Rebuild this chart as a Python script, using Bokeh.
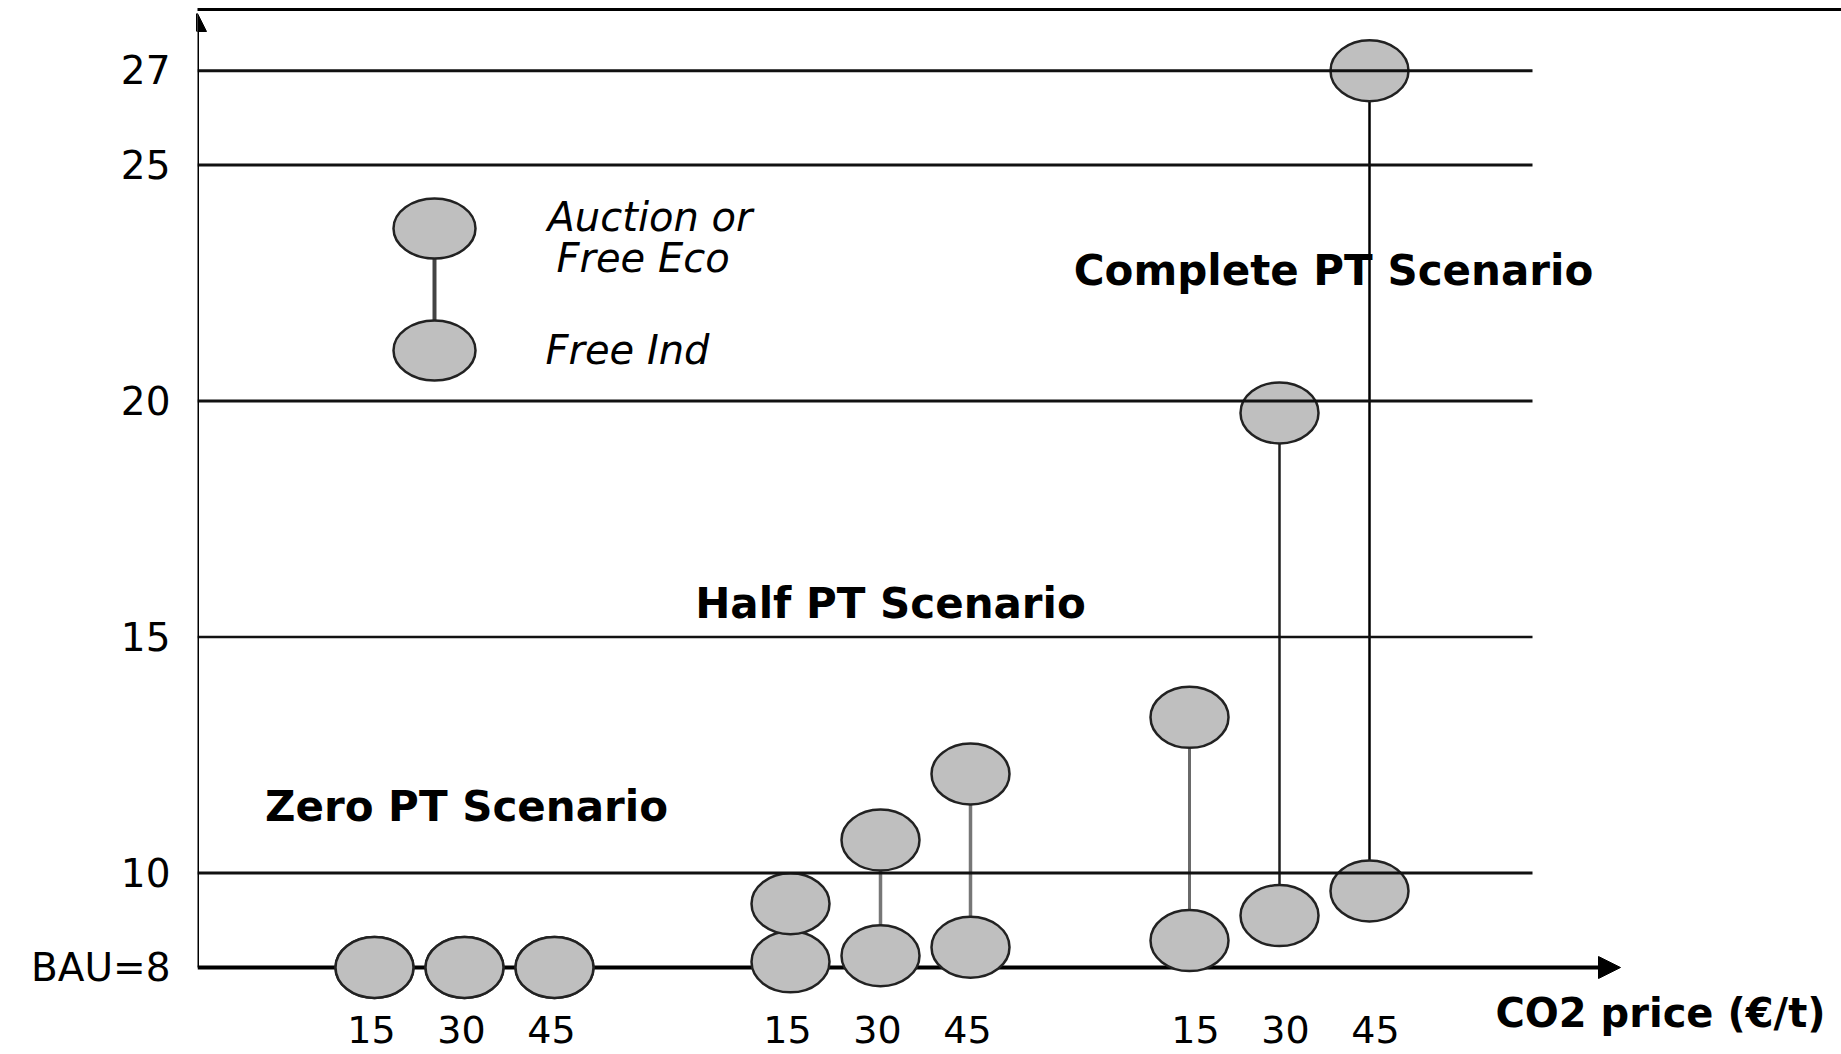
from bokeh.plotting import figure
from bokeh.models import Range1d, FixedTicker, Arrow, NormalHead, Label
from bokeh.core.properties import value
from bokeh.embed import file_html
from bokeh.resources import INLINE

# ---------------- data ----------------
SCENARIOS = ["Zero PT Scenario", "Half PT Scenario", "Complete PT Scenario"]
PRICES = [15, 30, 45]
# Non EU import ratio (%) per scenario x CO2 price
AUCTION_OR_FREE_ECO = [8.0, 8.0, 8.0, 9.35, 10.7, 12.1, 13.3, 19.75, 27.0]
FREE_IND = [8.0, 8.0, 8.0, 8.12, 8.25, 8.43, 8.57, 9.1, 9.62]
Y_TICKS = [8, 10, 15, 20, 25, 27]
Y_TICK_LABELS = ["BAU=8", "10", "15", "20", "25", "27"]
LEGEND_LABELS = ["Auction or", "Free Eco", "Free Ind"]
Y_TITLE = "Non EU Import ratio (%)"
X_TITLE = "CO2 price (€/t)"

# ---------------- layout ----------------
W, H = 1841, 1054
AX_X = 197                      # page x of the y axis (frame left)
PX_PER_UNIT = 47.2              # vertical scale
BASE_SCREEN = 967               # page y of value 8
Y_END = 8 + BASE_SCREEN / PX_PER_UNIT
Y_START = 8 - (H - BASE_SCREEN) / PX_PER_UNIT

def ys(page_y):
    """page pixel row -> y data value (for annotation placement)"""
    return 8 + (BASE_SCREEN - page_y) / PX_PER_UNIT

GROUP_LEFT = [374, 790, 1189]   # x of first price in each scenario group (page px)
PRICE_STEP = 90
LABEL_SHIFT = [-3, -3, 6]       # small horizontal shift of the price labels per group
xs = [GROUP_LEFT[g] + k * PRICE_STEP for g in range(len(SCENARIOS)) for k in range(len(PRICES))]
label_xs = [GROUP_LEFT[g] + k * PRICE_STEP + LABEL_SHIFT[g]
            for g in range(len(SCENARIOS)) for k in range(len(PRICES))]
price_labels = [str(pr) for _ in SCENARIOS for pr in PRICES]

GRID_END = 1532
XAXIS_END = 1620

p = figure(width=W, height=H, output_backend="svg", toolbar_location=None,
           title=None, x_axis_type=None,
           x_range=Range1d(AX_X, W), y_range=Range1d(Y_START, Y_END),
           min_border_left=AX_X, min_border_right=0, min_border_top=0, min_border_bottom=0)
p.outline_line_color = None
p.xgrid.visible = False
p.ygrid.visible = False
p.background_fill_color = "white"
p.border_fill_color = "white"

yax = p.yaxis[0]
yax.ticker = FixedTicker(ticks=Y_TICKS)
yax.major_label_overrides = {t: l for t, l in zip(Y_TICKS, Y_TICK_LABELS)}
yax.axis_line_color = None
yax.major_tick_line_color = None
yax.minor_tick_line_color = None
yax.major_tick_out = 0
yax.major_tick_in = 0
yax.major_label_standoff = 27
yax.major_label_text_font = "DejaVu Sans"
yax.major_label_text_font_size = "39px"
yax.major_label_text_color = "black"

FONT = value("DejaVu Sans")

# x axis (under the markers)
p.add_layout(Arrow(end=NormalHead(size=22, fill_color="black", line_color="black", line_width=1),
                   x_start=AX_X, y_start=8, x_end=XAXIS_END, y_end=8,
                   line_width=4, line_color="black", level="underlay"))
# y axis
p.add_layout(Arrow(end=NormalHead(size=18, fill_color="black", line_color="black", line_width=1),
                   x_start=AX_X, y_start=8, x_end=AX_X, y_end=ys(13),
                   line_width=3, line_color="black"))
# top border line of the cropped figure
p.add_layout(Arrow(end=None, x_start=AX_X - 200, y_start=ys(9), x_end=AX_X + W, y_end=ys(9),
                   line_width=3, line_color="black"))

# stems
stem_colors = ["#777777"] * 6 + ["#6a6a6a", "#1e1e1e", "#000000"]
stem_widths = [3.5] * 6 + [3, 2.5, 2.5]
p.segment(x0=xs, y0=FREE_IND, x1=xs, y1=AUCTION_OR_FREE_ECO,
          line_color=stem_colors, line_width=stem_widths)

# markers
for series in (FREE_IND, AUCTION_OR_FREE_ECO):
    p.ellipse(x=xs, y=series, width=78, height=61, width_units="screen", height_units="screen",
              fill_color="#bfbfbf", line_color="#222222", line_width=2.5)

# horizontal reference lines (over the markers)
grid_vals = [t for t in Y_TICKS if t > 8]
p.segment(x0=[AX_X] * len(grid_vals), x1=[GRID_END] * len(grid_vals), y0=grid_vals, y1=grid_vals,
          line_color="#111111", line_width=[3, 2.5, 3, 3, 3])

# x tick labels (CO2 prices)
p.text(x=label_xs, y=[ys(1029)] * len(xs), text=price_labels,
       text_font=FONT, text_font_size="38px", text_align="center", text_baseline="middle",
       text_color="black")

# scenario labels
scen_pos = [(466, 806), (890, 603), (1333, 270)]
for name, (sx, sy) in zip(SCENARIOS, scen_pos):
    p.add_layout(Label(x=sx, y=ys(sy), text=name, text_font="DejaVu Sans", text_font_style="bold",
                       text_font_size="42px", text_align="center", text_baseline="middle",
                       text_color="black"))

# legend
LEG_X = 434
p.segment(x0=[LEG_X], y0=[ys(228)], x1=[LEG_X], y1=[ys(350)], line_color="#444444", line_width=4)
p.ellipse(x=[LEG_X, LEG_X], y=[ys(228), ys(350)], width=82, height=60,
          width_units="screen", height_units="screen",
          fill_color="#bfbfbf", line_color="#222222", line_width=2.5)
leg_pos = [(547, 216), (556, 257), (545, 349)]
for t, (lx, ly) in zip(LEGEND_LABELS, leg_pos):
    p.add_layout(Label(x=lx, y=ys(ly), text=t, text_font="DejaVu Sans", text_font_style="italic",
                       text_font_size="40px", text_align="left", text_baseline="middle",
                       text_color="black"))

# axis titles
p.add_layout(Label(x=40, y=ys(494), text=Y_TITLE, angle=90, angle_units="deg",
                   text_font="Liberation Sans", text_font_style="bold", text_font_size="39px",
                   text_align="center", text_baseline="middle", text_color="black"))
p.add_layout(Label(x=1660, y=ys(1012), text=X_TITLE, text_font="DejaVu Sans",
                   text_font_style="bold", text_font_size="40px",
                   text_align="center", text_baseline="middle", text_color="black"))

open("out.html", "w").write(file_html(p, INLINE))
